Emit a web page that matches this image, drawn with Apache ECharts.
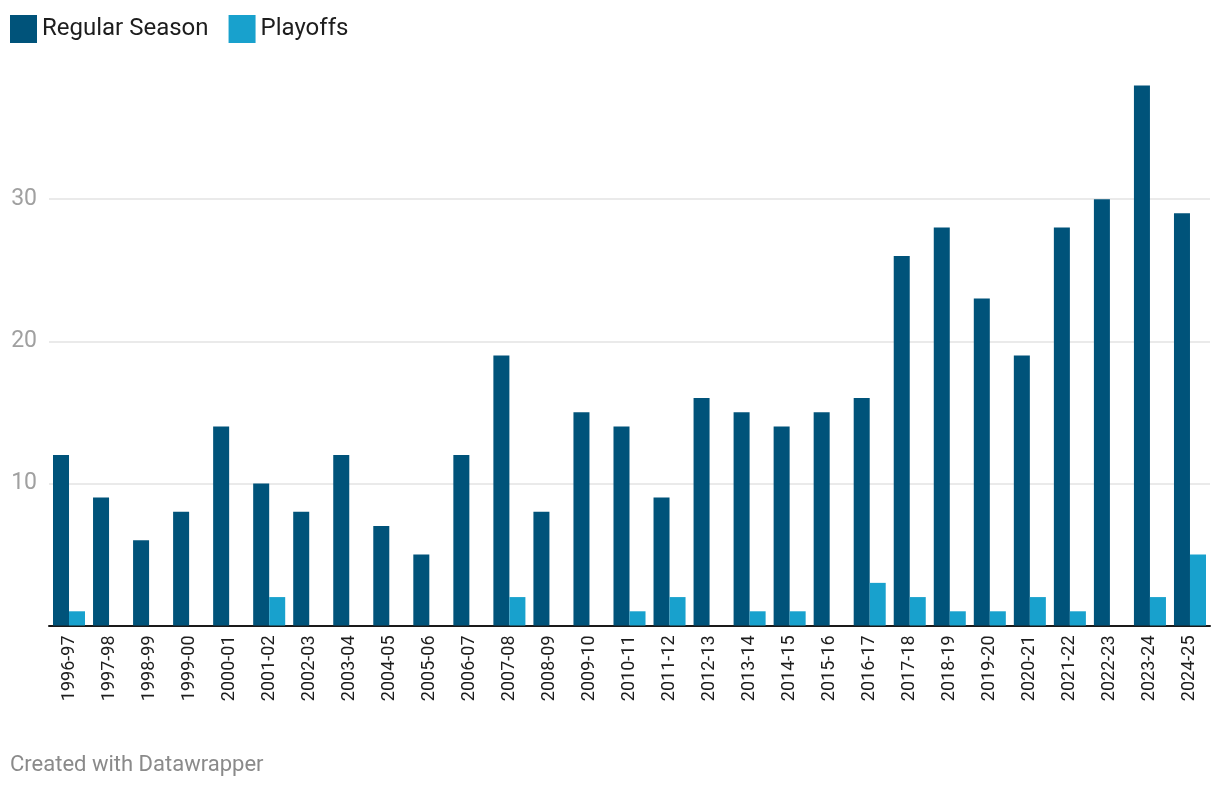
<!DOCTYPE html>
<html>
<head>
<meta charset="utf-8">
<script src="https://cdn.jsdelivr.net/npm/echarts@6/dist/echarts.min.js"></script>
<style>
html,body{margin:0;padding:0;background:#fff;}
#chart{width:1220px;height:788px;}
</style>
</head>
<body>
<div id="chart"></div>
<script>
const categories = ["1996-97","1997-98","1998-99","1999-00","2000-01","2001-02","2002-03","2003-04","2004-05","2005-06","2006-07","2007-08","2008-09","2009-10","2010-11","2011-12","2012-13","2013-14","2014-15","2015-16","2016-17","2017-18","2018-19","2019-20","2020-21","2021-22","2022-23","2023-24","2024-25"];
const regularSeason = [12,9,6,8,14,10,8,12,7,5,12,19,8,15,14,9,16,15,14,15,16,26,28,23,19,28,30,38,29];
const playoffs = [1,0,0,0,0,2,0,0,0,0,0,2,0,0,1,2,0,1,1,0,3,2,1,1,2,1,0,2,5];
const yTicks = [0,10,20,30,40];

const chart = echarts.init(document.getElementById('chart'));
chart.setOption({
  animation: false,
  textStyle: { fontFamily: 'Roboto' },
  title: {
    text: 'Created with Datawrapper',
    left: 10, top: 753, padding: 0,
    textStyle: { fontFamily: 'Roboto', fontSize: 22, fontWeight: 'normal', color: '#8a8a8a', lineHeight: 24 }
  },
  legend: {
    left: 10, top: 15, padding: 0,
    itemWidth: 27, itemHeight: 28,
    itemGap: 20, itemTextGap: 11,
    icon: 'rect',
    textStyle: { fontFamily: 'Roboto', fontSize: 24, color: '#1d1d1d', padding: [3, 0, 0, 0] },
    data: ['Regular Season', 'Playoffs']
  },
  grid: { left: 49, right: 10, top: 57, bottom: 162.5, containLabel: false },
  xAxis: {
    type: 'category',
    data: categories,
    axisLine: { lineStyle: { color: '#1a1a1a', width: 2 } },
    axisTick: { show: false },
    axisLabel: { rotate: 90, margin: 10, fontSize: 18, color: '#1d1d1d', fontFamily: 'Roboto', interval: 0 }
  },
  yAxis: {
    type: 'value',
    min: yTicks[0], max: yTicks[yTicks.length - 1], interval: 10,
    axisLine: { show: false },
    axisTick: { show: false },
    axisLabel: { margin: 12, fontSize: 23, color: '#a0a0a0', fontFamily: 'Roboto', showMaxLabel: false,
      formatter: v => v === 0 ? '' : String(v) },
    splitLine: { showMaxLine: false, lineStyle: { color: '#e3e3e3', width: 1.5 } }
  },
  series: [
    { name: 'Regular Season', type: 'bar', data: regularSeason, barGap: '0%', barCategoryGap: '20%',
      itemStyle: { color: '#00537a' } },
    { name: 'Playoffs', type: 'bar', data: playoffs, barGap: '0%', barCategoryGap: '20%',
      itemStyle: { color: '#18a1cd' } }
  ]
});
</script>
</body>
</html>
